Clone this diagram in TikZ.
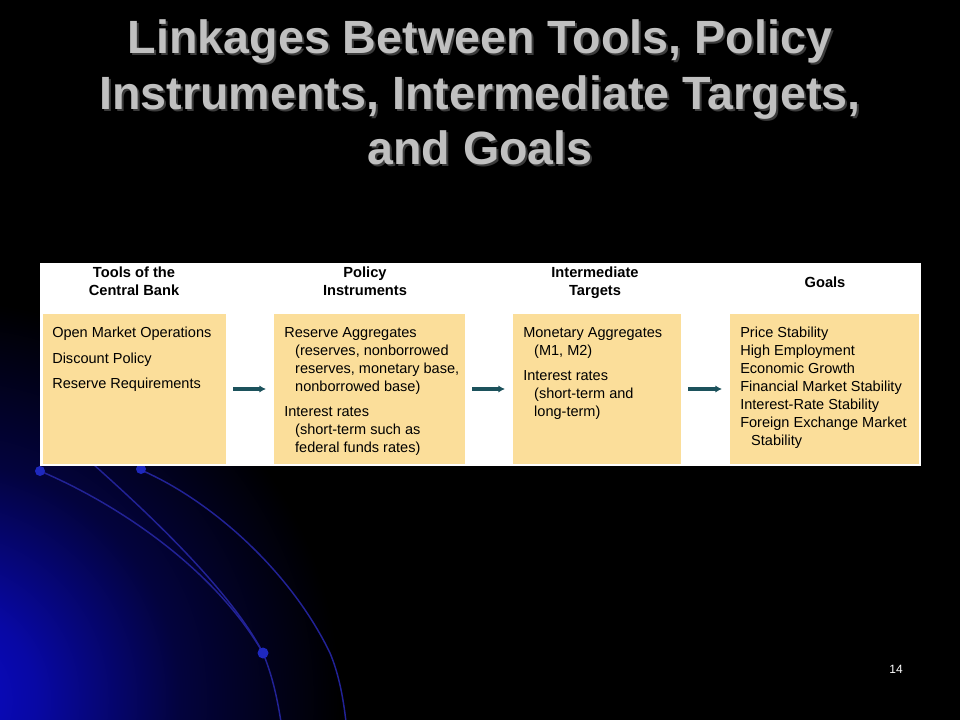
\documentclass[tikz,border=0pt]{standalone}
\usepackage{fontspec}
\setmainfont{Liberation Sans}
\usetikzlibrary{arrows.meta}
\definecolor{boxfill}{RGB}{251,222,154}
\definecolor{arrcol}{RGB}{28,82,92}
\definecolor{glowblue}{RGB}{10,10,205}
\definecolor{arcblue}{RGB}{34,34,150}
\definecolor{dotblue}{RGB}{30,40,190}
\definecolor{titlegray}{RGB}{192,192,192}
\definecolor{shadowgray}{RGB}{60,60,60}
\pgfdeclareradialshading{glow}{\pgfpoint{0bp}{0bp}}{color(0bp)=(glowblue); color(6bp)=(glowblue!80!black); color(15bp)=(glowblue!30!black); color(25bp)=(black); color(50bp)=(black)}
\newcommand\myind{\hspace*{8.2pt}}
\begin{document}
\begin{tikzpicture}[x=0.75pt,y=-0.75pt,
  ybox/.style={fill=boxfill, draw=none, inner sep=0pt, outer sep=0pt, anchor=north west, minimum height=112.5pt},
  body/.style={font=\fontsize{10.9}{13.5}\selectfont, align=left, inner sep=0pt, anchor=north west, text=black},
  hdr/.style={font=\bfseries\fontsize{11}{13.5}\selectfont, align=center, inner sep=0pt, anchor=north, text=black},
  ttl/.style={font=\bfseries\fontsize{35}{41.6}\selectfont, align=center, inner sep=0pt, anchor=north},
  arr/.style={draw=arrcol, line width=2.6pt, -{Latex[length=5pt,width=5.5pt]}, shorten <=5.25pt, shorten >=6pt},
  arcline/.style={draw=arcblue, line width=1.1pt},
  bluedot/.style={fill=dotblue}
]
% background
\fill[black] (0,0) rectangle (960,720);
\begin{scope}
  \clip (0,0) rectangle (960,720);
  \shade[shading=glow] (-60,700) circle [radius=400];
  \draw[arcline] (40,471) .. controls (120,505) and (215,570) .. (263,653) .. controls (270,670) and (276,690) .. (281,722);
  \draw[arcline] (93,464) .. controls (150,515) and (230,590) .. (263,653);
  \draw[arcline] (141,470) .. controls (210,500) and (290,570) .. (330,653) .. controls (338,672) and (343,695) .. (346,722);
  \fill[bluedot] (40,471) circle [radius=5];
  \fill[bluedot] (141,469) circle [radius=5];
  \fill[bluedot] (263,653) circle [radius=5.5];
\end{scope}
% title
\node[ttl, text=shadowgray] (titleshadow) at (482,16.7) {\strut Linkages Between Tools, Policy\\Instruments, Intermediate Targets,\\and Goals};
\node[ttl, text=titlegray] (title) at (480,14.7) {\strut Linkages Between Tools, Policy\\Instruments, Intermediate Targets,\\and Goals};
% panel
\node[fill=white, inner sep=0pt, outer sep=0pt, anchor=north west, minimum width=660.75pt, minimum height=152.25pt] (panel) at (40,263) {};
% boxes
\node[ybox, minimum width=137.25pt] (b1) at (43,314) {};
\node[ybox, minimum width=143.25pt] (b2) at (274,314) {};
\node[ybox, minimum width=126pt] (b3) at (513,314) {};
\node[ybox, minimum width=141.75pt] (b4) at (730,314) {};
% headers
\node[hdr] (h1) at (134,264.7) {\strut Tools of the\\Central Bank};
\node[hdr] (h2) at (365,264.7) {\strut Policy\\Instruments};
\node[hdr] (h3) at (595,264.7) {\strut Intermediate\\Targets};
\node[hdr, anchor=base] (h4) at (825,287) {Goals};
% box texts
\node[body] (t1) at (52,324.7) {\strut Open Market Operations\\[5.6pt]Discount Policy\\[5.6pt]Reserve Requirements};
\node[body] (t2) at (284,324.7) {\strut Reserve Aggregates\\\myind(reserves, nonborrowed\\\myind reserves, monetary base,\\\myind nonborrowed base)\\[5.25pt]Interest rates\\\myind(short-term such as\\\myind federal funds rates)};
\node[body] (t3) at (523,324.7) {\strut Monetary Aggregates\\\myind(M1, M2)\\[5.25pt]Interest rates\\\myind(short-term and\\\myind long-term)};
\node[body] (t4) at (740,324.7) {\strut Price Stability\\High Employment\\Economic Growth\\Financial Market Stability\\Interest-Rate Stability\\Foreign Exchange Market\\\myind Stability};
% arrows
\draw[arr] (b1) -- (b2);
\draw[arr] (b2) -- (b3);
\draw[arr] (b3) -- (b4);
% page number
\node[text=white, font=\fontsize{9}{10}\selectfont, inner sep=0pt] (pagenum) at (896,669) {14};
\end{tikzpicture}
\end{document}
